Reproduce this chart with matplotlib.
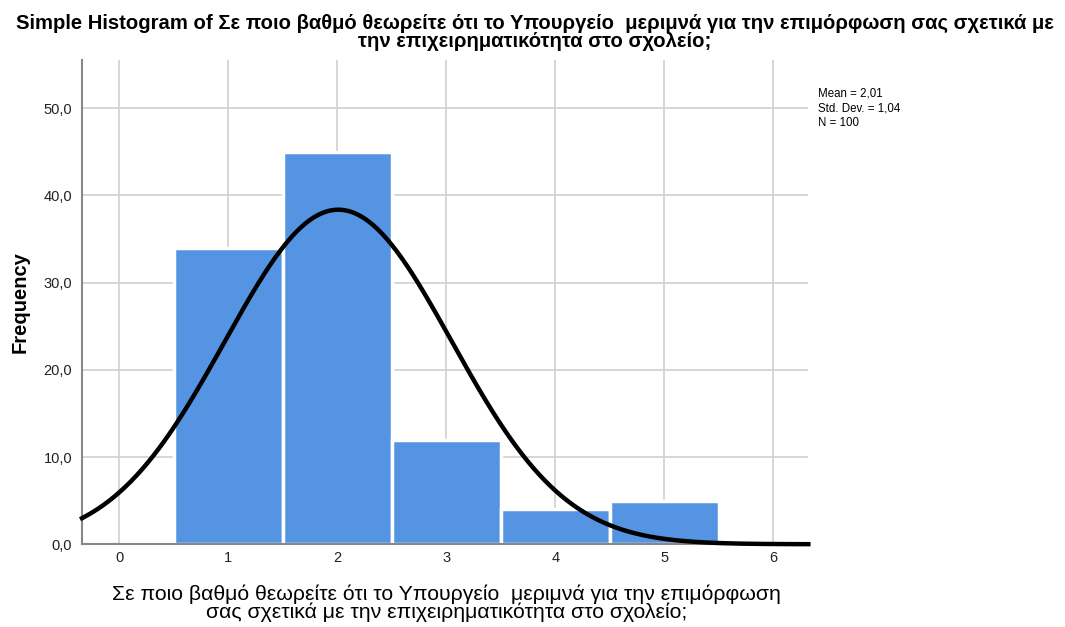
import numpy as np
import matplotlib
matplotlib.use('Agg')
import matplotlib.pyplot as plt

# histogram data
values = [1, 2, 3, 4, 5]
counts = [34, 45, 12, 4, 5]
mean = 2.01
std_dev = 1.04
n_total = 100

title = ('Simple Histogram of Σε ποιο βαθμό θεωρείτε ότι το Υπουργείο  μεριμνά για την επιμόρφωση σας σχετικά με\n'
         'την επιχειρηματικότητα στο σχολείο;')
x_label = ('Σε ποιο βαθμό θεωρείτε ότι το Υπουργείο  μεριμνά για την επιμόρφωση\n'
           'σας σχετικά με την επιχειρηματικότητα στο σχολείο;')
y_ticks = [0, 10, 20, 30, 40, 50]
x_ticks = [0, 1, 2, 3, 4, 5, 6]

plt.rcParams['font.family'] = ['Liberation Sans', 'DejaVu Sans']

fig = plt.figure(figsize=(10.65, 6.27), dpi=100)
ax = fig.add_axes([0.077, 0.132, 0.682, 0.772])

ax.set_xlim(-0.34, 6.32)
ax.set_ylim(0, 55.5)
ax.set_axisbelow(True)
ax.grid(True, color='#d0d0d0', linewidth=1.2)

ax.bar(values, counts, width=1.0, color='#5594e3', edgecolor='white', linewidth=2.5, zorder=2)

# normal curve scaled to counts (bin width 1)
xs = np.linspace(-0.34, 6.32, 400)
ys = n_total / (std_dev * np.sqrt(2 * np.pi)) * np.exp(-0.5 * ((xs - mean) / std_dev) ** 2)
ax.plot(xs, ys, color='black', linewidth=3.2, zorder=3, clip_on=False)

ax.set_xticks(x_ticks)
ax.set_yticks(y_ticks)
ax.set_yticklabels([f'{t:.1f}'.replace('.', ',') for t in y_ticks])
ax.tick_params(length=0, labelsize=10.5, colors='#222222')
ax.tick_params(axis='x', pad=5)
ax.tick_params(axis='y', pad=7)

for s in ['top', 'right']:
    ax.spines[s].set_visible(False)
for s in ['left', 'bottom']:
    ax.spines[s].set_color('#888888')
    ax.spines[s].set_linewidth(1.5)

ax.set_ylabel('Frequency', fontsize=14.5, fontweight='bold', labelpad=10)
# x label placed by hand so the two lines fit above the bottom edge
fig.text(0.419, 0.068, x_label, fontsize=15.3, ha='center', va='top', linespacing=0.88)
fig.suptitle(title, fontsize=14.6, fontweight='bold', x=0.502, y=0.978, linespacing=0.95)

stats = ('Mean = ' + f'{mean:.2f}'.replace('.', ',') + '\n'
         + 'Std. Dev. = ' + f'{std_dev:.2f}'.replace('.', ',') + '\n'
         + f'N = {n_total}')
fig.text(0.768, 0.86, stats, fontsize=8.3, va='top', ha='left', linespacing=1.3)

fig.savefig('out.png', dpi=100)
